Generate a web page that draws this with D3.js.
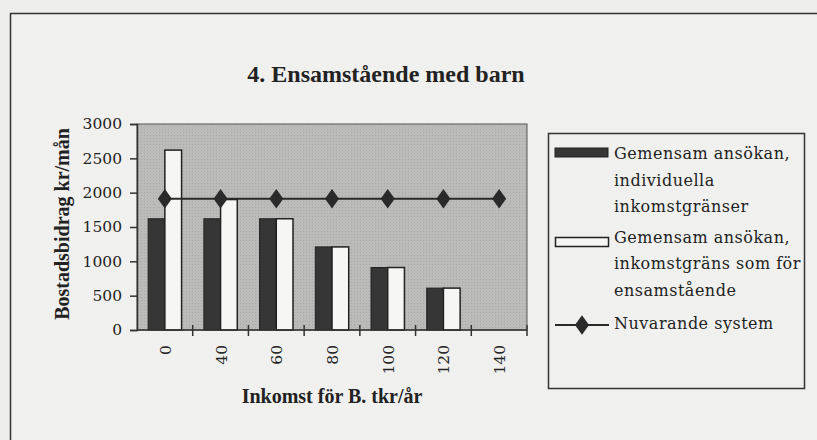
<!DOCTYPE html>
<html><head><meta charset="utf-8">
<script src="https://cdn.jsdelivr.net/npm/d3@7"></script>
<style>
html,body{margin:0;padding:0;background:#eeeeec;overflow:hidden;}
svg{display:block;}
text{fill:#222;}
.serif{font-family:"Liberation Serif","Times New Roman",serif;}
.wide{font-family:"DejaVu Serif",serif;}
</style></head>
<body>
<svg id="chart" width="817" height="440"></svg>
<script>
const categories = ["0","40","60","80","100","120","140"];
const individuellaValues = [1620,1620,1620,1210,910,610,0];
const ensamValues = [2620,1900,1620,1210,910,610,0];
const nuvarandeValues = [1910,1910,1910,1910,1910,1910,1910];
const yTickValues = [0,500,1000,1500,2000,2500,3000];
const legendLabels = [
  ["Gemensam ansökan,","individuella","inkomstgränser"],
  ["Gemensam ansökan,","inkomstgräns som för","ensamstående"],
  ["Nuvarande system"]
];
const title = "4. Ensamstående med barn";
const xTitle = "Inkomst för B. tkr/år";
const yTitle = "Bostadsbidrag kr/mån";

const svg = d3.select("#chart");
svg.append("rect").attr("width",817).attr("height",440).attr("fill","#eeeeec");
// outer frame (only left and top edges are in view)
svg.append("rect").attr("x",11).attr("y",14).attr("width",806).attr("height",426).attr("fill","#f0f0ee");
svg.append("line").attr("x1",10.5).attr("x2",10.5).attr("y1",13).attr("y2",440).attr("stroke","#333").attr("stroke-width",1.5);
svg.append("line").attr("x1",10).attr("x2",817).attr("y1",13.5).attr("y2",13.5).attr("stroke","#333").attr("stroke-width",1.5);

const L=137,R=527,T=124,B=330;
const x = d3.scaleBand().domain(categories).range([L,R]).paddingInner(0).paddingOuter(0);
const x1 = d3.scaleBand().domain([0,1]).range([0,x.bandwidth()]).paddingInner(0).paddingOuter(0.667);
const y = d3.scaleLinear().domain([0,3000]).range([B,T]);

// title
svg.append("text").attr("class","serif").attr("x",386).attr("y",82).attr("text-anchor","middle")
  .style("font-size","24px").style("font-weight","bold").text(title);

// plot area with texture
const defs = svg.append("defs");
const pat = defs.append("pattern").attr("id","dots").attr("width",3).attr("height",3).attr("patternUnits","userSpaceOnUse");
pat.append("rect").attr("width",3).attr("height",3).attr("fill","#bbbbb9");
pat.append("rect").attr("width",1).attr("height",1).attr("fill","#a9a9a7");
svg.append("rect").attr("x",L).attr("y",T).attr("width",R-L).attr("height",B-T)
  .attr("fill","url(#dots)").attr("stroke","#555").attr("stroke-width",1);

// bars
const g = svg.append("g");
categories.forEach((c,i)=>{
  const v1 = individuellaValues[i], v2 = ensamValues[i];
  if(v1>0) g.append("rect").attr("x",x(c)+x1(0)).attr("y",y(v1)).attr("width",x1.bandwidth()).attr("height",y(0)-y(v1))
    .attr("fill","#363636").attr("stroke","#222").attr("stroke-width",1);
  if(v2>0) g.append("rect").attr("x",x(c)+x1(1)).attr("y",y(v2)).attr("width",x1.bandwidth()).attr("height",y(0)-y(v2))
    .attr("fill","#f6f6f4").attr("stroke","#222").attr("stroke-width",1.5);
});

// line
const line = d3.line().x((d,i)=>x(categories[i])+x.bandwidth()/2).y(d=>y(d));
svg.append("path").datum(nuvarandeValues).attr("d",line).attr("fill","none").attr("stroke","#2a2a2a").attr("stroke-width",2);
const diamond = d3.symbol().type(d3.symbolDiamond).size(110);
svg.selectAll(".mk").data(nuvarandeValues).enter().append("path")
  .attr("transform",(d,i)=>`translate(${x(categories[i])+x.bandwidth()/2},${y(d)}) scale(1.25,1)`)
  .attr("d",diamond).attr("fill","#2a2a2a");

// y axis
const yAxis = d3.axisLeft(y).tickValues(yTickValues).tickSize(7).tickPadding(8).tickFormat(d3.format("d"));
const ya = svg.append("g").attr("transform",`translate(${L},0)`).call(yAxis);
ya.select(".domain").attr("stroke","#333").attr("stroke-width",1.5);
ya.selectAll(".tick line").attr("stroke","#333").attr("stroke-width",1.5);
ya.selectAll("text").attr("class","wide").attr("font-family",null).attr("font-size",null)
  .style("font-size","15.5px").style("fill","#222");

// x axis: ticks at category boundaries
const xa = svg.append("g").attr("transform",`translate(0,${B})`);
xa.append("line").attr("x1",L).attr("x2",R).attr("stroke","#333").attr("stroke-width",1.5);
categories.forEach((c,i)=>{
  const bx = x(c)+x.bandwidth();
  xa.append("line").attr("x1",bx).attr("x2",bx).attr("y1",-5).attr("y2",6).attr("stroke","#333").attr("stroke-width",1.5);
});
xa.selectAll(".xl").data(categories).enter().append("text").attr("class","wide")
  .attr("transform",d=>`translate(${x(d)+x.bandwidth()/2+6},15) rotate(-90)`)
  .attr("text-anchor","end").style("font-size","15.5px").text(d=>d);

// axis titles
svg.append("text").attr("class","serif").attr("x",332).attr("y",403).attr("text-anchor","middle")
  .style("font-size","20px").style("font-weight","bold").text(xTitle);
svg.append("text").attr("class","serif").attr("transform",`translate(69,224) rotate(-90)`).attr("text-anchor","middle")
  .style("font-size","20px").style("font-weight","bold").text(yTitle);

// legend
const lg = svg.append("g");
lg.append("rect").attr("x",548.5).attr("y",133.5).attr("width",256).attr("height",255)
  .attr("fill","#f0f0ee").attr("stroke","#333").attr("stroke-width",1.5);
lg.append("rect").attr("x",555).attr("y",148).attr("width",53).attr("height",9).attr("fill","#363636").attr("stroke","#222");
lg.append("rect").attr("x",555.5).attr("y",237.5).attr("width",53).attr("height",9).attr("fill","#f6f6f4").attr("stroke","#222").attr("stroke-width",1.5);
lg.append("line").attr("x1",555).attr("x2",609).attr("y1",325).attr("y2",325).attr("stroke","#2a2a2a").attr("stroke-width",2);
lg.append("path").attr("transform","translate(582,325) scale(1.25,1)").attr("d",diamond).attr("fill","#2a2a2a");
const baselines = [[159,186,212],[243,269,296],[329]];
legendLabels.forEach((lines,i)=>{
  lines.forEach((t,j)=>{
    lg.append("text").attr("class","wide").attr("x",614).attr("y",baselines[i][j])
      .style("font-size","16px").style("letter-spacing","0.5px").text(t);
  });
});
</script>
</body></html>
